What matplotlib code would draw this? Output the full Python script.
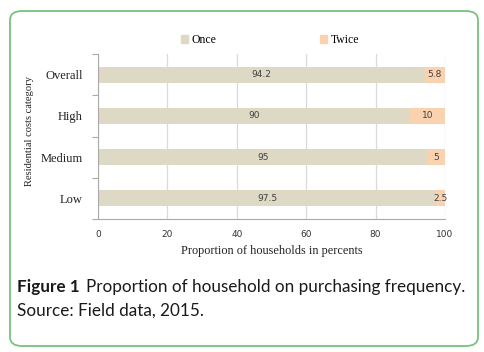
import matplotlib
matplotlib.use("Agg")
import matplotlib.pyplot as plt
from matplotlib.patches import FancyBboxPatch, Patch
import numpy as np

categories = ["Low", "Medium", "High", "Overall"]
once = [97.5, 95, 90, 94.2]
twice = [2.5, 5, 10, 5.8]
series_names = ["Once", "Twice"]
xticks = [0, 20, 40, 60, 80, 100]

c_once = "#DDD9C4"
c_twice = "#FAD2B0"
serif = "Liberation Serif"

fig = plt.figure(figsize=(4.85, 3.52), dpi=100)
fig.patch.set_facecolor("white")

border = FancyBboxPatch((10/485, 1 - 346/352), (478-10)/485, (346-11)/352,
                        boxstyle="round,pad=0,rounding_size=0.025",
                        transform=fig.transFigure, fill=False,
                        edgecolor="#78C27E", linewidth=1.3, zorder=0)
fig.patches.append(border)

ax = fig.add_axes([98/485, 1 - 219/352, (445-98)/485, (219-54)/352])
y = np.arange(len(categories))
h = 0.39
ax.barh(y, once, height=h, color=c_once, zorder=2, label=series_names[0])
ax.barh(y, twice, left=once, height=h, color=c_twice, zorder=2, label=series_names[1])

for i in range(len(categories)):
    ax.text(once[i] / 2, y[i], f"{once[i]:g}", ha="center", va="center",
            fontsize=6.5, color="#404040", family="DejaVu Sans", zorder=3)
    ax.text(once[i] + twice[i] / 2, y[i], f"{twice[i]:g}", ha="center", va="center",
            fontsize=6.5, color="#404040", family="DejaVu Sans", zorder=3)

ax.set_xlim(0, 100)
ax.set_ylim(-0.5, len(categories) - 0.5)
ax.set_xticks(xticks)
ax.set_xticklabels([str(t) for t in xticks], fontsize=6.5, family="DejaVu Sans", color="#333333")
ax.tick_params(axis="x", length=0, pad=8)
ax.xaxis.grid(True, color="#DADADA", linewidth=0.9, zorder=0)

ax.set_yticks(np.arange(-0.5, len(categories), 1.0))
ax.set_yticklabels([])
ax.set_yticks(y, minor=True)
ax.set_yticklabels(categories, minor=True, fontsize=9, family=serif, color="#222222")
ax.tick_params(axis="y", which="major", length=4, color="#AAAAAA", width=0.8)
ax.tick_params(axis="y", which="minor", length=0, pad=11)

for s in ["top", "right"]:
    ax.spines[s].set_visible(False)
ax.spines["left"].set_color("#AAAAAA")
ax.spines["bottom"].set_color("#AAAAAA")

ax.set_xlabel("Proportion of households in percents", fontsize=8.8, family=serif,
              color="#222222", labelpad=4)
fig.text(30/485, 1 - 131/352, "Residential costs category", rotation=90,
         ha="center", va="center", fontsize=7.6, family=serif, color="#222222")

handles = [Patch(color=c_once), Patch(color=c_twice)]
fig.legend(handles, series_names, loc="center", bbox_to_anchor=(270/485, 1 - 40/352),
           ncol=2, frameon=False, prop={"family": serif, "size": 8.5},
           handlelength=0.6, handleheight=0.6, handletextpad=0.3, columnspacing=8.8)

cap_size = 12.3
bold = fig.text(17/485, 1 - 287/352, "Figure 1", fontsize=cap_size, family="Lato",
                weight="bold", va="center", ha="left", color="#1a1a1a")
fig.canvas.draw()
bb = bold.get_window_extent(renderer=fig.canvas.get_renderer())
x_after = (bb.x1 + 6) / fig.bbox.width
fig.text(x_after, 1 - 287/352, "Proportion of household on purchasing frequency.",
         fontsize=cap_size, family="Lato", va="center", ha="left", color="#1a1a1a")
fig.text(17/485, 1 - 311/352, "Source: Field data, 2015.", fontsize=cap_size,
         family="Lato", va="center", ha="left", color="#1a1a1a")

fig.savefig("out.png", dpi=100)
